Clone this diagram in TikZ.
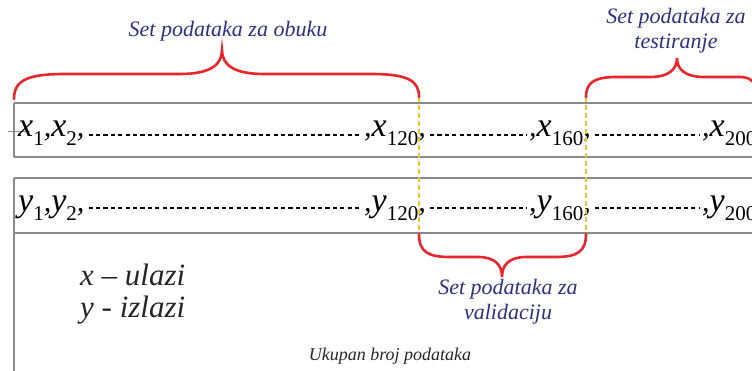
\documentclass[tikz,border=0pt]{standalone}
\usepackage{fontspec}
\setmainfont{Liberation Serif}
\definecolor{navy}{HTML}{2E2F86}
\definecolor{bred}{HTML}{E8262B}
\definecolor{yel}{HTML}{F4C430}
\definecolor{boxgray}{HTML}{8A8A8A}
\newcommand\sbs[1]{\raisebox{-9pt}{\fontsize{21}{21}\selectfont\upshape #1}}
\newcommand\cmm{{\fontsize{30}{30}\selectfont\itshape,}}
\begin{document}
\begin{tikzpicture}[x=1pt,y=-1pt,
  rowbox/.style={draw=boxgray,line width=1.1pt},
  rowtxt/.style={anchor=base west,inner sep=0pt,font=\fontsize{34}{34}\selectfont\itshape},
  dotline/.style={line width=2.6pt,dash pattern=on 4.2pt off 3.2pt},
  brace/.style={draw=bred,line width=2.6pt,line cap=round},
  sepline/.style={draw=yel,line width=1.3pt,dash pattern=on 5pt off 3pt},
  lbl/.style={text=navy,font=\fontsize{22}{25}\selectfont\itshape,align=center,inner sep=0pt},
  legend/.style={anchor=west,inner sep=0pt,text=black!85,font=\fontsize{31}{35}\selectfont\itshape}]
\useasboundingbox (0,0) rectangle (752,371);
\clip (0,0) rectangle (752,371);
% boxes
\draw[rowbox] (14,103) -- (780,103);
\draw[rowbox] (14,157) -- (780,157);
\draw[rowbox] (14,103) -- (14,157);
\draw[rowbox] (14,178) -- (780,178);
\draw[rowbox] (14,233) -- (780,233);
\draw[rowbox] (14,178) -- (14,371);
\draw[draw=boxgray,line width=1pt] (8,132) -- (30,132);
% row x
\node[rowtxt] (x1) at (18,137) {x\sbs{1}\cmm x\sbs{2}\cmm};
\node[rowtxt] (x120) at (364,137) {\cmm x\sbs{120}\cmm};
\node[rowtxt] (x160) at (529,137) {\cmm x\sbs{160}\cmm};
\node[rowtxt] (x200) at (702,137) {\cmm x\sbs{200}};
\draw[dotline] ([shift={(4,-2)}]x1.base east) -- ([shift={(-2,-2)}]x120.base west);
\draw[dotline] ([shift={(4,-2)}]x120.base east) -- ([shift={(-2,-2)}]x160.base west);
\draw[dotline] ([shift={(4,-2)}]x160.base east) -- ([shift={(-2,-2)}]x200.base west);
% row y
\node[rowtxt] (y1) at (18,212) {y\sbs{1}\cmm y\sbs{2}\cmm};
\node[rowtxt] (y120) at (364,212) {\cmm y\sbs{120}\cmm};
\node[rowtxt] (y160) at (529,212) {\cmm y\sbs{160}\cmm};
\node[rowtxt] (y200) at (702,212) {\cmm y\sbs{200}};
\draw[dotline] ([shift={(4,-4)}]y1.base east) -- ([shift={(-2,-4)}]y120.base west);
\draw[dotline] ([shift={(4,-4)}]y120.base east) -- ([shift={(-2,-4)}]y160.base west);
\draw[dotline] ([shift={(4,-4)}]y160.base east) -- ([shift={(-2,-4)}]y200.base west);
% separators
\coordinate (s1t) at (419,97);
\coordinate (s1b) at (419,234);
\coordinate (s2t) at (586,97);
\coordinate (s2b) at (586,234);
\draw[sepline] (s1t) -- (s1b);
\draw[sepline] (s2t) -- (s2b);
% braces
\draw[brace] (14,99) .. controls (14,80) and (28,74) .. (65,74) -- (180,74)
  .. controls (210,74) and (222,65) .. (222,50)
  .. controls (222,65) and (234,74) .. (264,74) -- (370,74)
  .. controls (407,74) and (419,80) .. (s1t);
\draw[brace] (s2t) .. controls (586,82) and (595,77) .. (617,77) -- (650,77)
  .. controls (668,77) and (677,70) .. (677,58)
  .. controls (677,70) and (686,77) .. (704,77) -- (740,77)
  .. controls (752,77) and (758,84) .. (758,99);
\draw[brace] (s1b) .. controls (419,252) and (428,257) .. (450,257) -- (478,257)
  .. controls (495,257) and (502,265) .. (502,277)
  .. controls (502,265) and (509,257) .. (526,257) -- (555,257)
  .. controls (577,257) and (586,252) .. (s2b);
% labels
\node[lbl] (train) at (228,31) {Set podataka za obuku};
\node[lbl] (test) at (676,31) {Set podataka za\\testiranje};
\node[lbl] (valid) at (508,302) {Set podataka za\\validaciju};
\node[legend] (lx) at (80,275) {x -- ulazi};
\node[legend] (ly) at (80,310) {y - izlazi};
\node[inner sep=0pt,text=black!85,font=\fontsize{18}{18}\selectfont\itshape] (total) at (390,356) {Ukupan broj podataka};
\end{tikzpicture}
\end{document}
